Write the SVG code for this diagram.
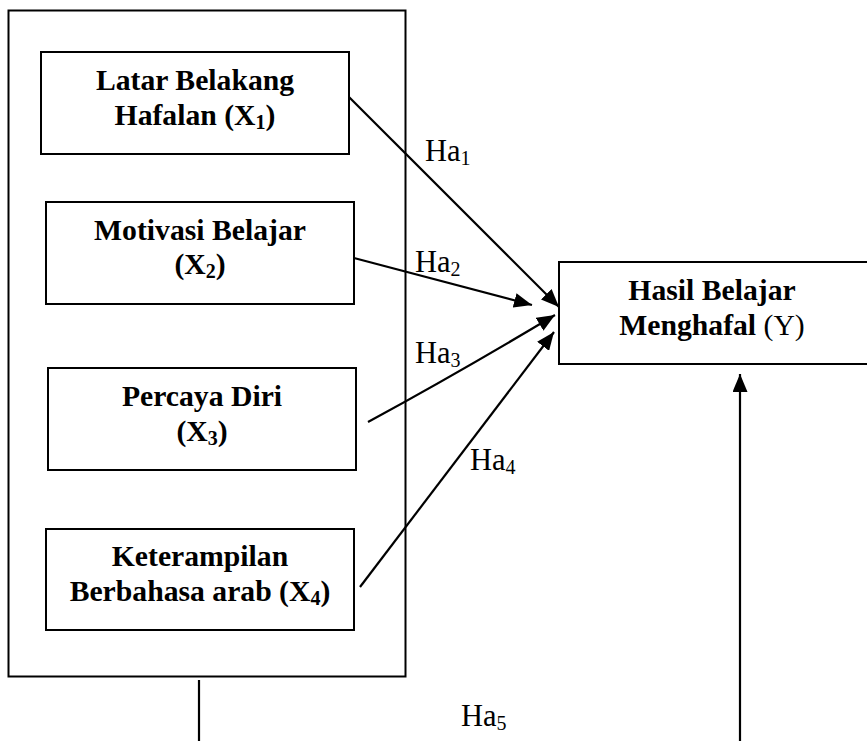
<svg xmlns="http://www.w3.org/2000/svg" width="867" height="741" viewBox="0 0 867 741">
<style>
.box{fill:#fff;stroke:#000;stroke-width:2}
.outer{fill:none;stroke:#000;stroke-width:2}
.t{font-family:"Liberation Serif","Times New Roman",serif;font-size:29.7px;fill:#000;text-anchor:middle}
.b{font-weight:bold}
.lbl{font-family:"Liberation Serif","Times New Roman",serif;font-size:30.5px;fill:#000}
.con{stroke:#000;stroke-width:2.2;fill:none}
.sub{font-size:20px}
</style>
<defs>
<marker id="ah" markerUnits="userSpaceOnUse" markerWidth="19" markerHeight="15" refX="18" refY="7.5" orient="auto">
<path d="M0,0 L18,7.5 L0,15 z" fill="#000"/>
</marker>
</defs>
<rect x="0" y="0" width="867" height="741" fill="#fff"/>
<g id="outer"><rect class="outer" x="8.5" y="10.5" width="397" height="666"/></g>
<g id="x1">
<rect class="box" x="41" y="52" width="308" height="102"/>
<text class="t b" x="195" y="90">Latar Belakang</text>
<text class="t b" x="195" y="125">Hafalan (X<tspan class="sub" dy="4">1</tspan><tspan dy="-4">)</tspan></text>
</g>
<g id="x2">
<rect class="box" x="46" y="202" width="308" height="102"/>
<text class="t b" x="200" y="240">Motivasi Belajar</text>
<text class="t b" x="200" y="274">(X<tspan class="sub" dy="4">2</tspan><tspan dy="-4">)</tspan></text>
</g>
<g id="x3">
<rect class="box" x="48" y="368" width="308" height="102"/>
<text class="t b" x="202" y="406">Percaya Diri</text>
<text class="t b" x="202" y="441">(X<tspan class="sub" dy="4">3</tspan><tspan dy="-4">)</tspan></text>
</g>
<g id="x4">
<rect class="box" x="46" y="529" width="308" height="101"/>
<text class="t b" x="200" y="566">Keterampilan</text>
<text class="t b" x="200" y="601">Berbahasa arab (X<tspan class="sub" dy="4">4</tspan><tspan dy="-4">)</tspan></text>
</g>
<g id="y">
<rect class="box" x="559" y="262" width="320" height="102"/>
<text class="t b" x="712" y="300">Hasil Belajar</text>
<text class="t" x="712" y="335"><tspan class="b">Menghafal</tspan> (Y)</text>
</g>
<g id="connectors">
<line class="con" x1="349" y1="97" x2="559" y2="307" marker-end="url(#ah)"/>
<line class="con" x1="354" y1="258" x2="532" y2="305" marker-end="url(#ah)"/>
<path class="con" d="M368,422 Q460,372 555,315" marker-end="url(#ah)"/>
<line class="con" x1="360" y1="587" x2="554" y2="332" marker-end="url(#ah)"/>
<line class="con" x1="740" y1="741" x2="740" y2="374" marker-end="url(#ah)"/>
<line class="con" x1="199" y1="680" x2="199" y2="741"/>
</g>
<g id="labels">
<text class="lbl" x="425" y="161">Ha<tspan class="sub" dy="4">1</tspan></text>
<text class="lbl" x="415" y="272">Ha<tspan class="sub" dy="4">2</tspan></text>
<text class="lbl" x="415" y="363">Ha<tspan class="sub" dy="4">3</tspan></text>
<text class="lbl" x="470" y="470">Ha<tspan class="sub" dy="4">4</tspan></text>
<text class="lbl" x="461" y="726">Ha<tspan class="sub" dy="4">5</tspan></text>
</g>
</svg>
